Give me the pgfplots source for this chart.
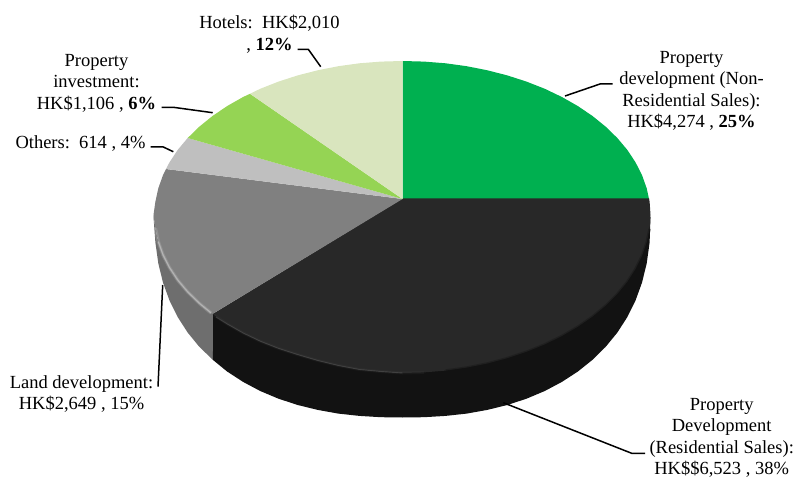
\documentclass[border=0pt]{standalone}
\usepackage{fontspec}
\setmainfont{Liberation Serif}
\usepackage{pgfplots}
\pgfplotsset{compat=1.18}
\definecolor{nonres}{HTML}{00B050}
\definecolor{res}{HTML}{282828}
\definecolor{resside}{HTML}{121212}
\definecolor{land}{HTML}{808080}
\definecolor{landside}{HTML}{6E6E6E}
\definecolor{others}{HTML}{BFBFBF}
\definecolor{invest}{HTML}{95D454}
\definecolor{hotels}{HTML}{D9E5BE}
\tikzset{
  slicelabel/.style={font=\fontsize{18.5}{21.5}\selectfont, align=center, text=black, inner sep=0pt},
  leader/.style={black, line width=1.5pt, line join=round},
}
\begin{document}
\begin{tikzpicture}[x=1pt,y=1pt]
\useasboundingbox (0,0) rectangle (803pt,478pt);
\begin{axis}[
  at={(0,0)}, anchor=south west,
  scale only axis, width=803pt, height=478pt,
  xmin=0, xmax=803, ymin=0, ymax=478, y dir=reverse,
  hide axis, clip=false,
  every axis plot/.append style={no markers},
]
% rim of the land development slice
\addplot[fill=landside, draw=none] coordinates {
  (153.5,215) (155.4,228.4) (158.3,241.7) (163,254.9) (169.5,267.7) (177.7,280.1)
  (187.7,292) (199.3,303.3) (212.5,314) (212.8,359.8) (199.3,346.8) (187.7,332.6)
  (177.7,317.1) (169.5,300.5) (163,282.6) (158.3,263.4) (155.4,242.6) (153.5,217)};
% rim of the residential slice
\addplot[fill=resside, draw=none] coordinates {
  (212.5,314) (212.8,359.8) (227.1,371.5) (243.1,381.9) (260.2,391) (278.5,398.7)
  (297.7,405) (317.7,409.9) (338.3,413.6) (359.4,415.9) (380.9,417.2) (402.5,417.5)
  (424.1,417.2) (445.6,415.9) (466.7,413.6) (487.3,409.9) (507.3,405) (526.5,398.7)
  (544.8,391) (561.9,381.9) (577.9,371.5) (592.5,359.8) (605.7,346.8) (617.3,332.6)
  (627.3,317.1) (635.5,300.5) (642,282.6) (646.7,263.4) (649.6,242.6) (650.5,217)
  (402.5,250)};
% top faces, clockwise from twelve o'clock
\addplot[fill=nonres, draw=none] coordinates {
  (402.5,199) (402.5,61) (424.1,61.6) (445.6,63.3) (466.7,66.2) (487.3,70.3)
  (507.3,75.4) (526.5,81.6) (544.8,88.8) (561.9,97) (577.9,106.1) (592.5,116)
  (605.7,126.7) (617.3,138) (627.3,149.9) (635.5,162.3) (642,175.1) (646.7,188.3)
  (649,199)};
\addplot[fill=res, draw=none] coordinates {
  (402.5,198.5) (649,198.5) (649.6,201.6) (650.5,215) (649.6,228.8) (646.7,242.4)
  (642,255.9) (635.5,269) (627.3,281.8) (617.3,294) (605.7,305.6) (592.5,316.6)
  (577.9,326.7) (561.9,336) (544.8,344.4) (526.5,351.8) (507.3,358.2) (487.3,363.5)
  (466.7,367.6) (445.6,370.6) (424.1,372.4) (402.5,373) (380.9,371.5) (359.4,369.5)
  (338.3,365.5) (317.7,360.5) (297.7,354.6) (278.5,348.4) (260.2,341.2) (243.1,333)
  (227.1,323.9) (212.5,314)};
\addplot[fill=land, draw=none] coordinates {
  (402.5,199) (212.5,314) (199.3,303.3) (187.7,292) (177.7,280.1) (169.5,267.7)
  (163,254.9) (158.3,241.7) (155.4,228.4) (153.5,215) (155.4,201.6) (158.3,188.3)
  (163,175.1) (166,169)};
\addplot[fill=others, draw=none] coordinates {
  (402.5,199) (166,169) (169.5,162.3) (177.7,149.9) (187.7,138)};
\addplot[fill=invest, draw=none] coordinates {
  (402.5,199) (187.7,138) (199.3,126.7) (212.5,116) (227.1,106.1) (243.1,97) (250,93.8)};
\addplot[fill=hotels, draw=none] coordinates {
  (402.5,199) (250,93.8) (260.2,88.8) (278.5,81.6) (297.7,75.4) (317.7,70.3)
  (338.3,66.2) (359.4,63.3) (380.9,61.6) (402.5,61)};
% soft bevel along the front edge of the top faces
\addplot[land!60!white, line width=3.5pt, opacity=.3] coordinates {
  (155.4,228.4) (158.3,241.7) (163,254.9) (169.5,267.7) (177.7,280.1)
  (187.7,292) (199.3,303.3) (211,313)};
\addplot[land!45!white, line width=1.5pt, opacity=.6] coordinates {
  (158.3,241.7) (163,254.9) (169.5,267.7) (177.7,280.1)
  (187.7,292) (199.3,303.3) (211,313)};
\addplot[res!85!white, line width=3pt, opacity=.15] coordinates {
  (214,315) (227.1,323.9) (243.1,333) (260.2,341.2) (278.5,348.4) (297.7,354.6)
  (317.7,360.5) (338.3,365.5) (359.4,369.5) (380.9,371.5) (402.5,373) (424.1,372.4)};
\addplot[res!75!white, line width=.9pt, opacity=.5] coordinates {
  (216,317) (227.1,323.9) (243.1,333) (260.2,341.2) (278.5,348.4) (297.7,354.6)
  (317.7,360.5) (338.3,365.5) (359.4,369.5) (380.9,371.5) (402.5,373)};
\addplot[resside, line width=2.5pt, opacity=.4] coordinates {
  (445.6,370.6) (466.7,367.6) (487.3,363.5) (507.3,358.2) (526.5,351.8) (544.8,344.4)
  (561.9,336) (577.9,326.7) (592.5,316.6) (605.7,305.6) (617.3,294) (627.3,281.8)
  (635.5,269) (642,255.9) (646.7,242.4) (649.6,228.8)};
% leader lines
\addplot[leader] coordinates {(297.7,49.3) (308.3,49.3) (320.7,66.7)};
\addplot[leader] coordinates {(161.7,107.3) (173.3,107.3) (212.7,112.7)};
\addplot[leader] coordinates {(150.7,147) (163.3,147) (173.3,151.7)};
\addplot[leader] coordinates {(158,386.7) (162.7,285)};
\addplot[leader] coordinates {(645,453.3) (631.7,453.3) (503.3,402.7)};
\addplot[leader] coordinates {(612.7,84) (600,84) (565,96)};
% slice labels
\node[slicelabel] at (axis cs:269.5,34) {Hotels:\ \ HK\$2,010\\, \textbf{12\%}};
\node[slicelabel] at (axis cs:96.5,83) {Property\\investment:\\HK\$1,106 , \textbf{6\%}};
\node[slicelabel] at (axis cs:80.5,143.5) {Others:\ \ 614 , 4\%};
\node[slicelabel] at (axis cs:81.5,394) {Land development:\\HK\$2,649 , 15\%};
\node[slicelabel] at (axis cs:691.5,91) {Property\\development (Non-\\Residential Sales):\\HK\$4,274 , \textbf{25\%}};
\node[slicelabel] at (axis cs:721.7,438) {Property\\Development\\(Residential Sales):\\HK\$\$6,523 , 38\%};
\end{axis}
\end{tikzpicture}
\end{document}
